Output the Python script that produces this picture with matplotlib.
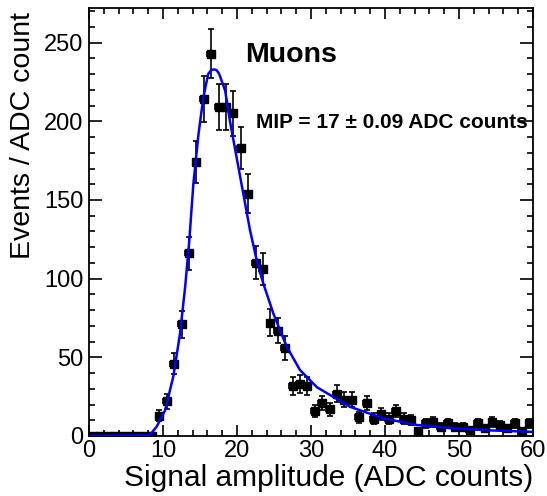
# Espectro de amplitud de señal para muones con ajuste (curva)

import numpy as np
import matplotlib.pyplot as plt
from matplotlib.ticker import MultipleLocator

plt.rcParams['font.family'] = ['Liberation Sans', 'DejaVu Sans']

# Datos del histograma: un bin por cuenta ADC, de 0 a 60
bin_lo = list(range(0, 60))
eventos = [0, 0, 0, 0, 0, 0, 0, 0, 0, 13,
           22, 46, 71, 116, 174, 214, 243, 209, 209, 205,
           183, 154, 110, 106, 72, 67, 56, 32, 33, 32,
           16, 21, 17, 27, 23, 23, 12, 21, 11, 14,
           11, 16, 11, 10, 3, 8, 9, 6, 8, 6,
           6, 4, 8, 5, 9, 7, 5, 8, 3, 8]

# Curva de ajuste
ajuste_x = [0, 8.2, 9.15, 10.3, 11.4, 12.3, 13.0, 13.55, 14.1, 14.8, 15.45, 16.1,
            16.5, 16.9, 17.25, 17.6, 18.4, 19.05, 19.95, 20.85, 21.75, 22.65,
            23.55, 24.9, 26.7, 28.5, 30.8, 35.3, 39.8, 44.3, 48.8, 54, 60]
ajuste_y = [0, 0.5, 6, 16.5, 38, 65, 95, 124, 160, 192, 215, 230,
            232.5, 233, 232.5, 230, 219.5, 200, 177, 154, 131, 112,
            97, 78, 57, 42, 31, 18.5, 11.2, 7, 5, 3.6, 2.6]

titulo = "Muons"
texto_mip = "MIP = 17 ± 0.09 ADC counts"

# Figura
fig = plt.figure(figsize=(5.47, 4.96), dpi=100)
ax = fig.add_axes([89 / 547, 60 / 496, 444 / 547, 428 / 496])

x = np.array(bin_lo) + 0.5
y = np.array(eventos, dtype=float)
ax.errorbar(x, y, xerr=0.5, yerr=np.sqrt(y), fmt='s', color='black',
            markersize=5.5, elinewidth=1.2, capsize=2.5, capthick=1.2, zorder=3)
ax.plot(ajuste_x, ajuste_y, color='#0000ff', linewidth=1.8, zorder=4)

ax.set_xlim(0, 60)
ax.set_ylim(0, 272)

ax.xaxis.set_major_locator(MultipleLocator(10))
ax.xaxis.set_minor_locator(MultipleLocator(2))
ax.yaxis.set_major_locator(MultipleLocator(50))
ax.yaxis.set_minor_locator(MultipleLocator(10))

ax.tick_params(axis='both', which='both', direction='in', top=True, right=True,
               labelsize=17, width=1.2)
ax.tick_params(axis='x', which='major', length=8, pad=3)
ax.tick_params(axis='x', which='minor', length=4)
ax.tick_params(axis='y', which='major', length=9.5, pad=4)
ax.tick_params(axis='y', which='minor', length=4.5)
for s in ax.spines.values():
    s.set_linewidth(1.3)

ax.set_xlabel("Signal amplitude (ADC counts)", fontsize=21.5, loc='right')
ax.set_ylabel("Events / ADC count", fontsize=20.5, loc='top')
ax.xaxis.set_label_coords(1.0, -0.098)
ax.xaxis.label.set_va('center')
ax.yaxis.set_label_coords(-0.148, 0.99)
ax.yaxis.label.set_va('center')

ax.text(21.1, 242, titulo, fontsize=20.5, fontweight='bold', va='center', ha='left')
ax.text(22.5, 199, texto_mip, fontsize=15, fontweight='bold', va='center', ha='left')

fig.savefig("out.png", dpi=100)
